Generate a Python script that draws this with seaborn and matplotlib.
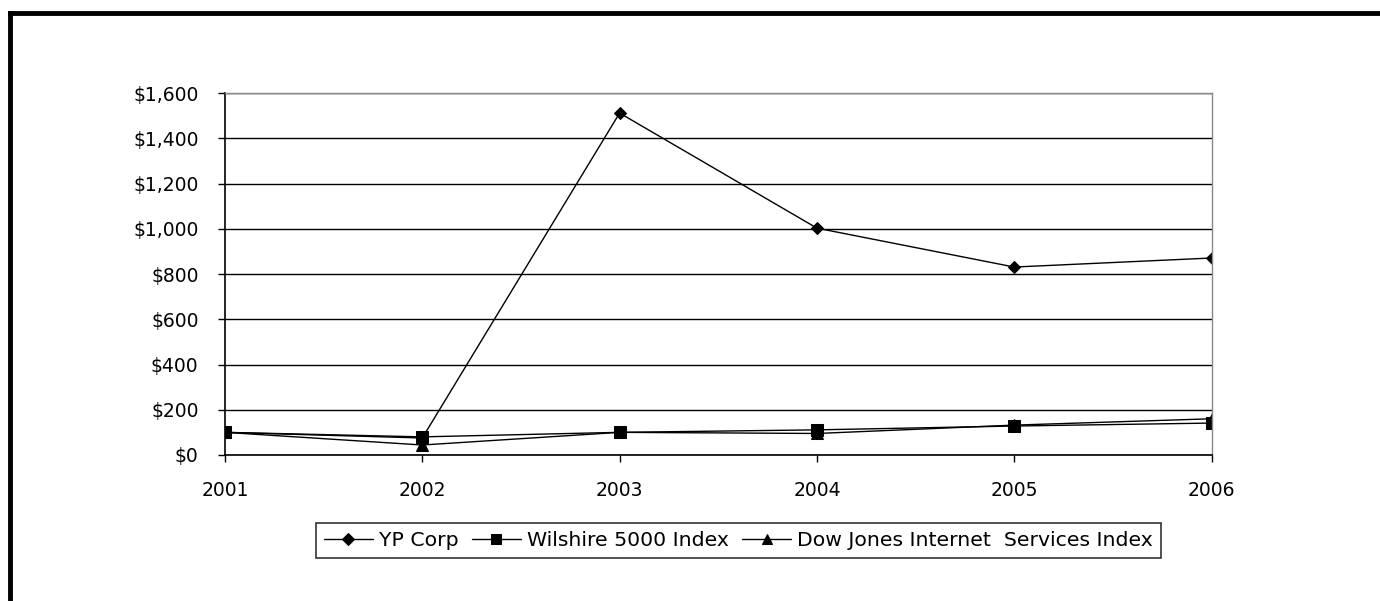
import pandas as pd
import matplotlib
matplotlib.use("Agg")
import matplotlib.pyplot as plt
import seaborn as sns
from matplotlib.ticker import FuncFormatter

# values
years = [2001, 2002, 2003, 2004, 2005, 2006]
yp_corp = [100, 75, 1512, 1003, 831, 871]
wilshire = [100, 80, 100, 111, 128, 141]
dow_jones = [100, 44, 100, 95, 132, 160]
series_names = ["YP Corp", "Wilshire 5000 Index", "Dow Jones Internet  Services Index"]
y_ticks = [0, 200, 400, 600, 800, 1000, 1200, 1400, 1600]

df = pd.DataFrame({
    "Year": years * 3,
    "Value": yp_corp + wilshire + dow_jones,
    "Series": [series_names[0]] * 6 + [series_names[1]] * 6 + [series_names[2]] * 6,
})

sns.set_style("white")
plt.rcParams["font.family"] = ["DejaVu Sans"]
plt.rcParams["text.color"] = "black"

fig = plt.figure(figsize=(13.8, 6.01), dpi=100)
ax = fig.add_axes([0.163, 0.243, 0.715, 0.602])

sns.lineplot(data=df, x="Year", y="Value", hue="Series", style="Series",
             palette=["black"] * 3, markers=["D", "s", "^"], dashes=False,
             linewidth=1, markersize=8, markeredgecolor="black", ax=ax, legend=True)
for line, ms in zip(ax.lines, [6, 8, 8]):
    line.set_markersize(ms)

ax.set_xlim(2001, 2006)
ax.set_ylim(0, 1600)
ax.set_yticks(y_ticks)
ax.set_xticks(years)
ax.yaxis.set_major_formatter(FuncFormatter(lambda v, p: f"${v:,.0f}"))
ax.set_xlabel("")
ax.set_ylabel("")
ax.grid(axis="y", color="black", linewidth=1)
ax.tick_params(axis="both", labelsize=13.5, colors="black", direction="out",
               length=5, width=1, left=True, bottom=True)
ax.tick_params(axis="y", pad=14)
ax.tick_params(axis="x", pad=14)
for side in ["left", "bottom"]:
    ax.spines[side].set_color("black")
    ax.spines[side].set_linewidth(1.2)
for side in ["top", "right"]:
    ax.spines[side].set_color("#888888")
    ax.spines[side].set_linewidth(1)

handles, labels = ax.get_legend_handles_labels()
ax.legend_.remove()
for h, ms in zip(handles, [6, 7, 7]):
    h.set_markersize(ms)
leg = fig.legend(handles, labels, loc="center", bbox_to_anchor=(0.535, 0.101),
                 ncol=3, fontsize=14.7, frameon=True, fancybox=False,
                 edgecolor="black", handlelength=2.4, handletextpad=0.3,
                 columnspacing=0.65, borderpad=0.4, borderaxespad=0,
                 labelcolor="black")
leg.get_frame().set_linewidth(1.2)

# outer frame (left and top edges only, as in the cropped source)
fig.add_artist(plt.Line2D([0.007, 0.007], [0, 0.979], color="black", linewidth=3.5,
                          transform=fig.transFigure, solid_capstyle="projecting"))
fig.add_artist(plt.Line2D([0.007, 1.0], [0.979, 0.979], color="black", linewidth=3.5,
                          transform=fig.transFigure, solid_capstyle="projecting"))

fig.savefig("out.png", dpi=100, facecolor="white")
